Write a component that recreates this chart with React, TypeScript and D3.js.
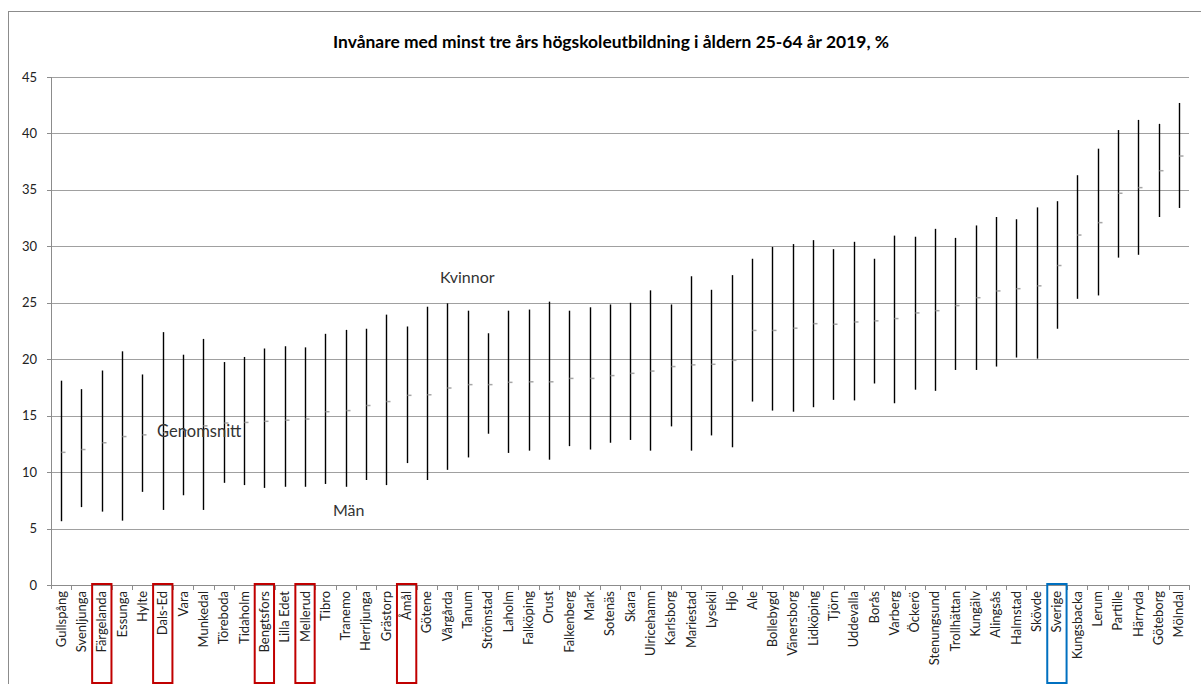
import React from "react";
import * as d3 from "d3";

const categories = ["Gullspång","Svenljunga","Färgelanda","Essunga","Hylte","Dals-Ed","Vara","Munkedal","Töreboda","Tidaholm","Bengtsfors","Lilla Edet","Mellerud","Tibro","Tranemo","Herrljunga","Grästorp","Åmål","Götene","Vårgårda","Tanum","Strömstad","Laholm","Falköping","Orust","Falkenberg","Mark","Sotenäs","Skara","Ulricehamn","Karlsborg","Mariestad","Lysekil","Hjo","Ale","Bollebygd","Vänersborg","Lidköping","Tjörn","Uddevalla","Borås","Varberg","Öckerö","Stenungsund","Trollhättan","Kungälv","Alingsås","Halmstad","Skövde","Sverige","Kungsbacka","Lerum","Partille","Härryda","Göteborg","Mölndal"];

const kvinnor = [18.1,17.35,19.0,20.7,18.65,22.4,20.4,21.8,19.75,20.2,20.95,21.15,21.05,22.25,22.6,22.7,23.95,22.9,24.65,24.95,24.3,22.3,24.3,24.4,25.1,24.3,24.6,24.85,25.0,26.1,24.85,27.35,26.15,27.45,28.9,29.95,30.2,30.55,29.75,30.4,28.9,30.95,30.85,31.55,30.75,31.85,32.6,32.4,33.45,34.0,36.3,38.65,40.3,41.2,40.85,42.7];

const man = [5.65,6.9,6.5,5.7,8.25,6.65,7.95,6.65,9.05,8.85,8.6,8.7,8.7,8.95,8.7,9.3,8.85,10.8,9.3,10.2,11.3,13.4,11.7,11.9,11.1,12.3,12.0,12.6,12.85,11.9,14.05,11.9,13.25,12.2,16.25,15.45,15.35,15.75,16.4,16.35,17.85,16.1,17.3,17.2,19.05,19.05,19.35,20.15,20.05,22.7,25.35,25.65,29.0,29.25,32.6,33.4];

const genomsnitt = [11.75,12.0,12.6,13.15,13.3,13.5,13.7,14.1,14.35,14.4,14.5,14.6,14.7,15.35,15.45,15.9,16.25,16.8,16.85,17.45,17.75,17.75,17.95,18.0,18.0,18.3,18.3,18.55,18.75,18.95,19.35,19.5,19.55,19.9,22.55,22.55,22.75,23.15,23.1,23.3,23.4,23.6,24.1,24.3,24.75,25.45,26.05,26.25,26.5,28.3,31.0,32.1,34.7,35.2,36.7,38.0];

const yTicks = [0,5,10,15,20,25,30,35,40,45];
const redBoxed = ["Färgelanda","Dals-Ed","Bengtsfors","Mellerud","Åmål"];
const blueBoxed = ["Sverige"];

const title = "Invånare med minst tre års högskoleutbildning i åldern 25-64 år 2019, %";

export default function App() {
  const W = 1201, H = 684;
  const left = 51, right = 1189, top = 77, bottom = 585;
  const x = d3.scaleBand<string>().domain(categories).range([left, right]).padding(0);
  const y = d3.scaleLinear().domain([0, 45]).range([bottom, top]);
  const font = "Lato, 'Open Sans', sans-serif";
  const bw = x.bandwidth();

  return (
    <svg width={W} height={H} style={{ position: "absolute", left: 0, top: 0, background: "#fff" }}>
      <rect x={0} y={0} width={W} height={H} fill="#fff" />
      <rect x={8.5} y={11.5} width={1200} height={690} fill="none" stroke="#8c8c8c" strokeWidth={1} />
      <text x={611} y={48} textAnchor="middle" fontFamily={font} fontWeight="bold" fontSize={17} textLength={556} lengthAdjust="spacingAndGlyphs" fill="#000">{title}</text>
      {yTicks.map((t) => (
        <g key={t}>
          <line x1={left} x2={right} y1={Math.round(y(t)) + 0.5} y2={Math.round(y(t)) + 0.5} stroke={t === 0 ? "#8c8c8c" : "#a0a0a0"} strokeWidth={1} />
          <line x1={left - 4} x2={left} y1={Math.round(y(t)) + 0.5} y2={Math.round(y(t)) + 0.5} stroke="#8c8c8c" />
          <text x={37} y={y(t) + 4.5} textAnchor="end" fontFamily={font} fontSize={13} fill="#222">{t}</text>
        </g>
      ))}
      <line x1={left + 0.5} x2={left + 0.5} y1={top} y2={bottom + 4} stroke="#8c8c8c" />
      {categories.map((c, i) => {
        const xs = (x(c) as number) + bw;
        return <line key={"tk" + i} x1={Math.round(xs) + 0.5} x2={Math.round(xs) + 0.5} y1={bottom} y2={bottom + 5} stroke="#8c8c8c" />;
      })}
      {categories.map((c, i) => {
        const cx = Math.round((x(c) as number) + bw / 2) + 0.5;
        return (
          <g key={"b" + i}>
            <line x1={cx} x2={cx} y1={y(kvinnor[i])} y2={y(man[i])} stroke="#000" strokeWidth={1.4} />
            <line x1={cx} x2={cx + 4} y1={y(genomsnitt[i])} y2={y(genomsnitt[i])} stroke="#a6a6a6" strokeWidth={1.5} />
          </g>
        );
      })}
      {categories.map((c, i) => {
        const cx = (x(c) as number) + bw / 2;
        return (
          <text key={"l" + i} transform={`translate(${cx + 4.5},${bottom + 6}) rotate(-90)`} textAnchor="end" fontFamily={font} fontSize={13} fill="#222">{c}</text>
        );
      })}
      {categories.map((c, i) => {
        const isRed = redBoxed.includes(c);
        const isBlue = blueBoxed.includes(c);
        if (!isRed && !isBlue) return null;
        const x0 = x(c) as number;
        return <rect key={"r" + i} x={x0 + 0.5} y={bottom - 1} width={bw - 1} height={99} fill="none" stroke={isRed ? "#c00000" : "#0070c0"} strokeWidth={2} />;
      })}
      <text x={440} y={283} fontFamily={font} fontSize={16} fill="#333">Kvinnor</text>
      <text x={157} y={437} fontFamily={font} fontSize={16.5} fill="#333">Genomsnitt</text>
      <text x={333} y={516} fontFamily={font} fontSize={16} fill="#333">Män</text>
    </svg>
  );
}
